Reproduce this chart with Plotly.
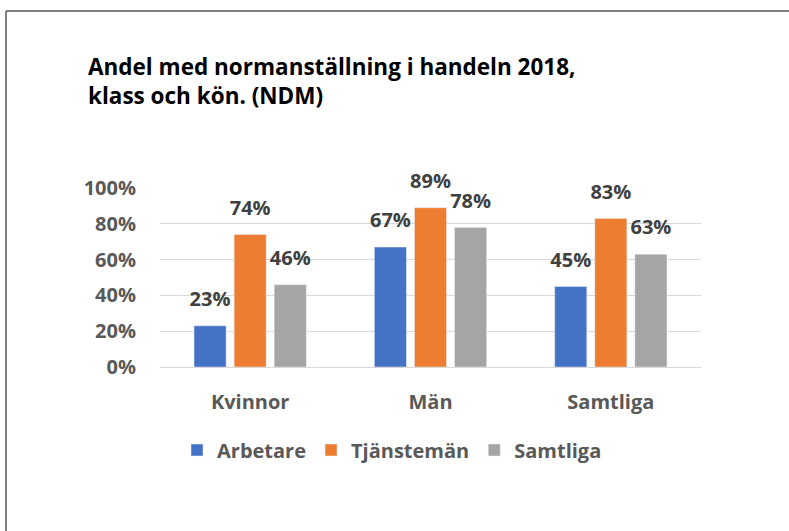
import plotly.graph_objs as go

categories = ['Kvinnor', 'Män', 'Samtliga']
arbetare = [0.23, 0.67, 0.45]
tjansteman = [0.74, 0.89, 0.83]
samtliga = [0.46, 0.78, 0.63]

series = [
    ('Arbetare', arbetare, '#4472C4'),
    ('Tjänstemän', tjansteman, '#ED7D31'),
    ('Samtliga', samtliga, '#A5A5A5'),
]

FONT = 'Open Sans'
fig = go.Figure()

for i, (name, vals, color) in enumerate(series):
    fig.add_trace(go.Bar(x=categories, y=vals, name='<b>{}</b>'.format(name), marker_color=color,
                         offsetgroup=str(i), hoverinfo='skip'))

# value labels, grouped the same way as the bars, lifted a bit above them
for i, (name, vals, color) in enumerate(series):
    fig.add_trace(go.Scatter(x=categories, y=vals, mode='markers+text', showlegend=False,
                             offsetgroup=str(i), marker=dict(size=22, opacity=0),
                             text=['<b>{:.0%}</b>'.format(v) for v in vals],
                             textposition='top center', cliponaxis=False,
                             textfont=dict(family=FONT, size=20, color='#404040'),
                             hoverinfo='skip'))

L, R, T, B = 160, 88, 188, 164
W, H = 789 - L - R, 531 - T - B

# the grey frame (left and top edge) of the original picture
shapes = [
    dict(type='line', xref='paper', yref='paper', x0=(6 - L) / W, x1=(6 - L) / W,
         y0=(367 - 540) / H, y1=(367 - 11) / H, line=dict(color='#808080', width=2)),
    dict(type='line', xref='paper', yref='paper', x0=(6 - L) / W, x1=(800 - L) / W,
         y0=(367 - 11) / H, y1=(367 - 11) / H, line=dict(color='#808080', width=2)),
]

ticks = [0, 0.2, 0.4, 0.6, 0.8, 1.0]

fig.update_layout(
    width=789, height=531,
    margin=dict(l=L, r=R, t=T, b=B),
    paper_bgcolor='white', plot_bgcolor='white',
    barmode='group', bargap=0.333, bargroupgap=0.2,
    scattermode='group',
    title=dict(text='<b>Andel med normanställning i handeln 2018,<br>klass och kön. (NDM)</b>',
               xref='container', yref='container', x=88 / 789, xanchor='left',
               y=1 - 75 / 531, yanchor='top',
               font=dict(family=FONT, size=22.5, color='#000000')),
    font=dict(family=FONT, color='#595959'),
    legend=dict(orientation='h', xref='paper', yref='paper', x=(392 - L) / W, xanchor='center',
                y=(367 - 450) / H, yanchor='middle',
                font=dict(family=FONT, size=20, color='#595959'),
                itemwidth=30, traceorder='normal'),
    shapes=shapes,
)

fig.update_yaxes(range=[0, 1], tickvals=ticks, ticktext=['<b>{:.0%}</b>'.format(v) for v in ticks],
                 showgrid=True, gridcolor='#D9D9D9', gridwidth=1, zeroline=False, showline=False,
                 tickfont=dict(family=FONT, size=20, color='#595959'),
                 ticklabelstandoff=23, fixedrange=True)
fig.update_xaxes(tickvals=categories, ticktext=['<b>{}</b>'.format(c) for c in categories],
                 showline=True, linecolor='#D9D9D9', linewidth=1, ticks='',
                 tickfont=dict(family=FONT, size=20, color='#595959'),
                 ticklabelstandoff=17, fixedrange=True)

fig.write_html("out.html", config={'displayModeBar': False},
               post_script="document.body.style.margin='0';document.body.style.overflow='hidden';")
